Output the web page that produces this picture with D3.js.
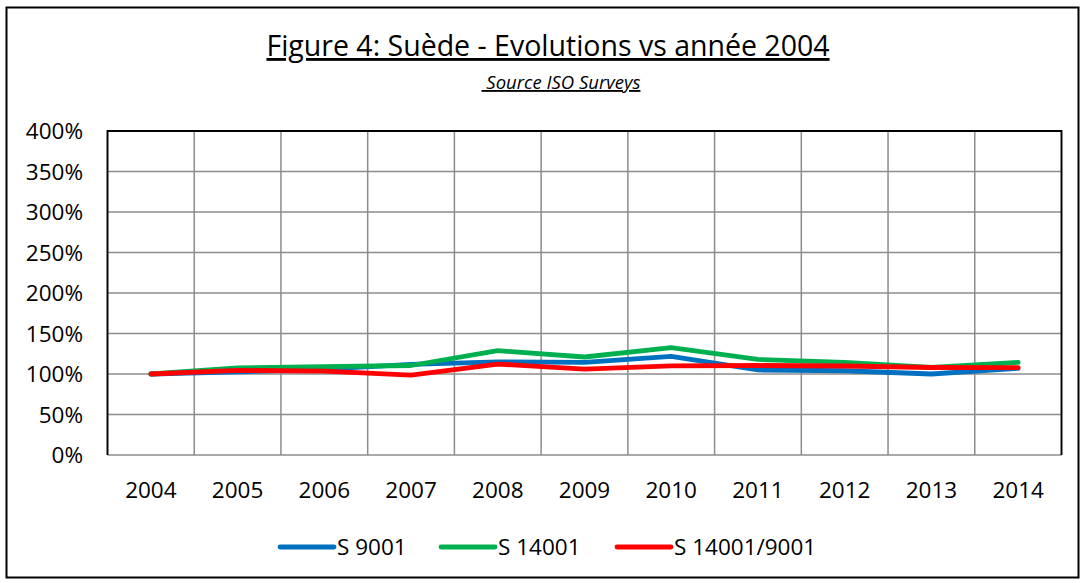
<!DOCTYPE html>
<html>
<head>
<meta charset="utf-8">
<script src="https://cdn.jsdelivr.net/npm/d3@7"></script>
<style>
  body { margin: 0; background: #fff; }
  text { font-family: "Open Sans", sans-serif; fill: #000; }
</style>
</head>
<body>
<svg id="chart" width="1087" height="583"></svg>
<script>
// Jahre (Kategorien)
var years = ["2004", "2005", "2006", "2007", "2008", "2009", "2010", "2011", "2012", "2013", "2014"];

// Reihen, in % vs 2004
var s9001 = [100, 102.5, 106, 112, 115, 114.4, 121.8, 105, 104, 100, 107];
var s14001 = [100, 107.5, 109, 110.5, 128.8, 121, 132.5, 118, 114.4, 108, 114.4];
var s14001_9001 = [100, 104.5, 103.5, 98.5, 112.3, 106, 110, 110.5, 109.9, 108, 107.8];

var yTicks = [0, 50, 100, 150, 200, 250, 300, 350, 400];

var seriesNames = ["S 9001", "S 14001", "S 14001/9001"];
var seriesColors = ["#0070C0", "#00B050", "#FF0000"];

var series = [s9001, s14001, s14001_9001].map(function(vals, i){
  return { name: seriesNames[i], color: seriesColors[i], values: vals };
});

var svg = d3.select("#chart");

// Rahmen des ganzen Diagramms
svg.append("rect")
  .attr("x", 6.5).attr("y", 7.5)
  .attr("width", 1072).attr("height", 570)
  .attr("fill", "#fff")
  .attr("stroke", "#000")
  .attr("stroke-width", 2);

var plot = { left: 107.5, right: 1061.5, top: 131, bottom: 455 };

var x = d3.scaleBand().domain(years).range([plot.left, plot.right]).padding(0);
var y = d3.scaleLinear().domain([0, 400]).range([plot.bottom, plot.top]);

// Titel
svg.append("text")
  .attr("x", 548).attr("y", 56)
  .attr("text-anchor", "middle")
  .style("font-size", "28.5px")
  .style("text-decoration", "underline")
  .text("Figure 4: Suède - Evolutions vs année 2004");

svg.append("text")
  .attr("x", 561).attr("y", 89)
  .attr("text-anchor", "middle")
  .style("font-size", "18.5px")
  .style("font-style", "italic")
  .style("text-decoration", "underline")
  .style("white-space", "pre")
  .attr("xml:space", "preserve")
  .text(" Source ISO Surveys");

// Gitter
var grid = svg.append("g").attr("class", "grid");

grid.selectAll("line.h")
  .data(yTicks)
  .enter().append("line")
  .attr("class", "h")
  .attr("x1", plot.left).attr("x2", plot.right)
  .attr("y1", function(d){ return y(d); })
  .attr("y2", function(d){ return y(d); })
  .attr("stroke", "#8c8c8c")
  .attr("stroke-width", 1.5);

var vlines = years.map(function(d){ return x(d); }).concat([plot.right]);
grid.selectAll("line.v")
  .data(vlines)
  .enter().append("line")
  .attr("class", "v")
  .attr("x1", function(d){ return d; }).attr("x2", function(d){ return d; })
  .attr("y1", plot.top).attr("y2", plot.bottom)
  .attr("stroke", "#8c8c8c")
  .attr("stroke-width", 1.5);

// Rand: oben, links, rechts schwarz
svg.append("path")
  .attr("d", "M" + plot.left + "," + plot.bottom + "V" + plot.top + "H" + plot.right + "V" + plot.bottom)
  .attr("fill", "none")
  .attr("stroke", "#000")
  .attr("stroke-width", 1.8);

// Achsen
var yAxis = d3.axisLeft(y)
  .tickValues(yTicks)
  .tickSize(0)
  .tickPadding(0)
  .tickFormat(function(d){ return d + "%"; });

svg.append("g")
  .attr("transform", "translate(" + 83 + ",0)")
  .call(yAxis)
  .call(function(g){ g.select(".domain").remove(); })
  .selectAll("text")
  .style("font-size", "22.5px")
  .style("font-family", "'Open Sans', sans-serif")
  .attr("dy", "0.35em");

var xAxis = d3.axisBottom(x).tickSize(0).tickPadding(0);
svg.append("g")
  .attr("transform", "translate(0," + 498 + ")")
  .call(xAxis)
  .call(function(g){ g.select(".domain").remove(); })
  .selectAll("text")
  .style("font-size", "22.5px")
  .style("font-family", "'Open Sans', sans-serif")
  .attr("dy", "0");

// Linien
var line = d3.line()
  .x(function(d, i){ return x(years[i]) + x.bandwidth() / 2; })
  .y(function(d){ return y(d); });

svg.selectAll("path.series")
  .data(series)
  .enter().append("path")
  .attr("class", "series")
  .attr("d", function(d){ return line(d.values); })
  .attr("fill", "none")
  .attr("stroke", function(d){ return d.color; })
  .attr("stroke-width", 4.8)
  .attr("stroke-linejoin", "round")
  .attr("stroke-linecap", "round");

// Legende
var legendX = [280, 441, 617];
var legend = svg.selectAll("g.legend")
  .data(series)
  .enter().append("g")
  .attr("class", "legend")
  .attr("transform", function(d, i){ return "translate(" + legendX[i] + ",547)"; });

legend.append("line")
  .attr("x1", 0).attr("x2", 54)
  .attr("y1", 0).attr("y2", 0)
  .attr("stroke", function(d){ return d.color; })
  .attr("stroke-width", 4.8)
  .attr("stroke-linecap", "round");

legend.append("text")
  .attr("x", 57)
  .attr("y", 0)
  .attr("dy", "0.35em")
  .style("font-size", "22.5px")
  .text(function(d){ return d.name; });
</script>
</body>
</html>
